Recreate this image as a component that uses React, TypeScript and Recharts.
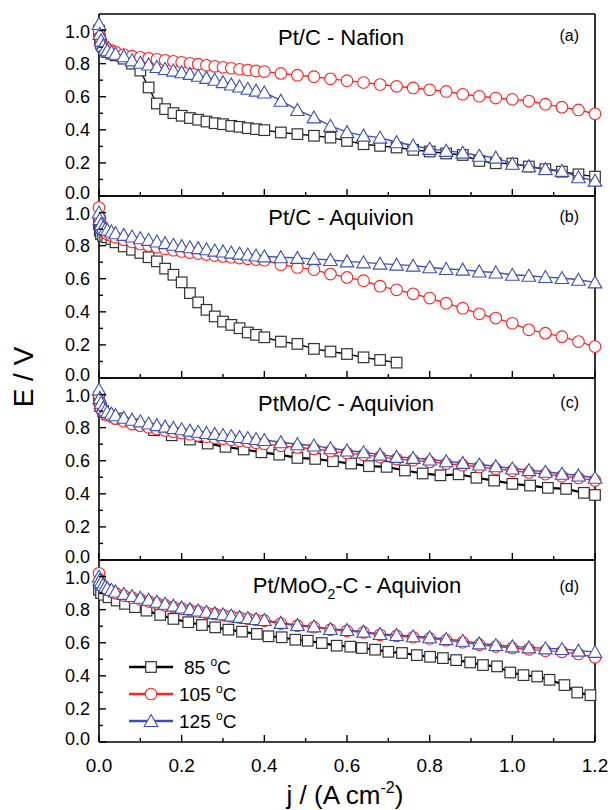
import { ScatterChart, Scatter, XAxis, YAxis } from "recharts";

// current density grid (A cm-2) shared by most curves
const J = [
  0, 0.002, 0.005, 0.01, 0.015, 0.02, 0.03,
  0.04, 0.06, 0.08, 0.1, 0.12, 0.14, 0.16, 0.18, 0.2, 0.22, 0.24, 0.26, 0.28, 0.3, 0.32, 0.34, 0.36, 0.38, 0.4,
  0.44, 0.48, 0.52, 0.56, 0.6, 0.64, 0.68, 0.72, 0.76, 0.8,
  0.84, 0.88, 0.92, 0.96, 1.0, 1.04, 1.08, 1.12, 1.16, 1.2,
];

// (a) Pt/C - Nafion
const a85 = [
  1.0, 0.95, 0.92, 0.9, 0.88, 0.87, 0.86,
  0.85, 0.83, 0.8, 0.758, 0.656, 0.559, 0.525, 0.501, 0.485, 0.471, 0.461, 0.45, 0.44, 0.434, 0.424, 0.418, 0.41, 0.404, 0.398,
  0.384, 0.374, 0.364, 0.353, 0.333, 0.313, 0.303, 0.293, 0.279, 0.269,
  0.257, 0.248, 0.212, 0.198, 0.196, 0.178, 0.162, 0.147, 0.131, 0.117,
];
const a105 = [
  1.0, 0.96, 0.93, 0.91, 0.9, 0.89, 0.88,
  0.87, 0.855, 0.845, 0.838, 0.832, 0.826, 0.82, 0.814, 0.808, 0.802, 0.797, 0.79, 0.784, 0.778, 0.772, 0.766, 0.761, 0.756, 0.752,
  0.741, 0.73, 0.721, 0.708, 0.697, 0.686, 0.674, 0.663, 0.653, 0.642,
  0.632, 0.615, 0.603, 0.592, 0.584, 0.574, 0.555, 0.537, 0.52, 0.497,
];
const a125 = [
  1.04, 0.98, 0.94, 0.91, 0.89, 0.88, 0.87,
  0.86, 0.845, 0.82, 0.805, 0.795, 0.78, 0.768, 0.758, 0.748, 0.738, 0.727, 0.714, 0.703, 0.688, 0.674, 0.662, 0.648, 0.637, 0.626,
  0.576, 0.52, 0.475, 0.424, 0.386, 0.365, 0.353, 0.325, 0.305, 0.285,
  0.273, 0.262, 0.243, 0.232, 0.195, 0.18, 0.163, 0.152, 0.113, 0.093,
];

// (b) Pt/C - Aquivion (85 °C stops at 0.72)
const b85 = [
  0.93, 0.89, 0.87, 0.86, 0.855, 0.85, 0.84,
  0.82, 0.795, 0.775, 0.756, 0.73, 0.705, 0.661, 0.624, 0.578, 0.513, 0.457, 0.412, 0.372, 0.341, 0.321, 0.301, 0.275, 0.261, 0.246,
  0.22, 0.206, 0.176, 0.16, 0.145, 0.125, 0.109, 0.093,
];
const b105 = [
  1.03, 0.97, 0.93, 0.9, 0.88, 0.87, 0.86,
  0.85, 0.835, 0.822, 0.81, 0.8, 0.79, 0.78, 0.772, 0.765, 0.758, 0.752, 0.746, 0.74, 0.735, 0.73, 0.725, 0.72, 0.716, 0.712,
  0.685, 0.668, 0.655, 0.628, 0.608, 0.588, 0.555, 0.533, 0.509, 0.483,
  0.452, 0.422, 0.388, 0.362, 0.331, 0.291, 0.271, 0.25, 0.22, 0.19,
];
const b125 = [
  1.0, 0.96, 0.93, 0.91, 0.9, 0.895, 0.885,
  0.875, 0.865, 0.855, 0.845, 0.835, 0.825, 0.815, 0.805, 0.797, 0.79, 0.785, 0.778, 0.77, 0.765, 0.758, 0.752, 0.746, 0.74, 0.735,
  0.73, 0.726, 0.72, 0.713, 0.705, 0.699, 0.691, 0.685, 0.679, 0.669,
  0.659, 0.655, 0.644, 0.638, 0.624, 0.618, 0.61, 0.604, 0.594, 0.578,
];

// (c) PtMo/C - Aquivion
const jC85 = [
  0, 0.003, 0.01, 0.02, 0.046, 0.09, 0.133, 0.176, 0.22, 0.263, 0.306, 0.35, 0.393,
  0.436, 0.48, 0.523, 0.566, 0.61, 0.653, 0.696, 0.74, 0.783, 0.826,
  0.87, 0.913, 0.956, 1.0, 1.043, 1.086, 1.13, 1.173, 1.2,
];
const c85 = [
  0.97, 0.93, 0.9, 0.88, 0.855, 0.82, 0.785, 0.754, 0.728, 0.704, 0.684, 0.668, 0.651,
  0.637, 0.617, 0.611, 0.597, 0.583, 0.567, 0.563, 0.541, 0.523, 0.512,
  0.518, 0.497, 0.48, 0.46, 0.45, 0.436, 0.43, 0.406, 0.393,
];
const c105 = [
  1.0, 0.95, 0.92, 0.9, 0.885, 0.875, 0.865,
  0.855, 0.838, 0.822, 0.812, 0.802, 0.792, 0.783, 0.775, 0.767, 0.76, 0.752, 0.745, 0.739, 0.733, 0.727, 0.721, 0.715, 0.709, 0.703,
  0.69, 0.68, 0.672, 0.658, 0.646, 0.636, 0.623, 0.61, 0.603, 0.593,
  0.583, 0.573, 0.562, 0.552, 0.539, 0.529, 0.519, 0.506, 0.496, 0.481,
];
const c125 = [
  1.03, 0.98, 0.95, 0.92, 0.905, 0.895, 0.885,
  0.875, 0.86, 0.848, 0.838, 0.825, 0.815, 0.806, 0.798, 0.79, 0.782, 0.775, 0.768, 0.762, 0.755, 0.749, 0.743, 0.737, 0.731, 0.725,
  0.712, 0.7, 0.692, 0.675, 0.662, 0.651, 0.637, 0.623, 0.617, 0.607,
  0.597, 0.587, 0.577, 0.567, 0.553, 0.543, 0.533, 0.521, 0.511, 0.497,
];

// (d) Pt/MoO2-C - Aquivion
const jD85 = [
  0, 0.005, 0.012, 0.023, 0.043, 0.063, 0.087, 0.115, 0.148, 0.18,
  0.216, 0.249, 0.281, 0.313, 0.346, 0.382, 0.41, 0.442, 0.475,
  0.505, 0.539, 0.575, 0.608, 0.636, 0.668, 0.7, 0.733, 0.769, 0.801,
  0.832, 0.864, 0.898, 0.929, 0.963, 0.995, 1.027, 1.06, 1.09, 1.126, 1.157, 1.189,
];
const d85 = [
  0.92, 0.9, 0.89, 0.875, 0.855, 0.835, 0.815, 0.794, 0.768, 0.744,
  0.724, 0.707, 0.693, 0.679, 0.667, 0.653, 0.639, 0.633, 0.618,
  0.612, 0.598, 0.582, 0.576, 0.568, 0.558, 0.545, 0.538, 0.525, 0.515,
  0.507, 0.495, 0.481, 0.465, 0.457, 0.42, 0.404, 0.396, 0.376, 0.344, 0.299, 0.283,
];
const d105 = [
  1.02, 0.98, 0.955, 0.94, 0.93, 0.92, 0.91,
  0.9, 0.885, 0.872, 0.862, 0.85, 0.838, 0.827, 0.816, 0.806, 0.797, 0.789, 0.781, 0.774, 0.767, 0.759, 0.752, 0.745, 0.739, 0.733,
  0.716, 0.703, 0.694, 0.679, 0.672, 0.662, 0.648, 0.641, 0.633, 0.626,
  0.615, 0.603, 0.588, 0.577, 0.568, 0.56, 0.552, 0.545, 0.532, 0.512,
];
const d125 = [
  1.0, 0.98, 0.965, 0.95, 0.94, 0.93, 0.92,
  0.91, 0.895, 0.882, 0.872, 0.86, 0.848, 0.836, 0.824, 0.813, 0.803, 0.795, 0.787, 0.779, 0.772, 0.764, 0.756, 0.749, 0.743, 0.737,
  0.72, 0.707, 0.699, 0.683, 0.677, 0.667, 0.653, 0.647, 0.639, 0.633,
  0.622, 0.612, 0.596, 0.586, 0.578, 0.572, 0.566, 0.562, 0.552, 0.545,
];

const J_TICKS = [0, 0.1, 0.2, 0.3, 0.4, 0.5, 0.6, 0.7, 0.8, 0.9, 1.0, 1.1, 1.2];
const E_TICKS = [0, 0.1, 0.2, 0.3, 0.4, 0.5, 0.6, 0.7, 0.8, 0.9, 1.0];
const TEMPS = ["85", "105", "125"];

const FONT = "'Liberation Sans', Arial, Helvetica, sans-serif";
const BLACK = "#000";
const RED = "#ff2424";
const BLUE = "#3b50b6";

const PANEL_H = 182;
const PAD = 12;

const zip = (js: number[], es: number[]) => es.map((e, i) => ({ j: js[i], e }));

function Square({ cx, cy }: any) {
  if (cx == null) return null;
  return <rect x={cx - 5.3} y={cy - 5.3} width={10.6} height={10.6} fill="#fff" stroke="#333" strokeWidth={1.2} />;
}
function Circle({ cx, cy }: any) {
  if (cx == null) return null;
  return <circle cx={cx} cy={cy} r={5.8} fill="#fff" stroke={RED} strokeWidth={1.1} />;
}
function Triangle({ cx, cy }: any) {
  if (cx == null) return null;
  return (
    <polygon
      points={`${cx},${cy - 6.5} ${cx + 6.8},${cy + 5.5} ${cx - 6.8},${cy + 5.5}`}
      fill="#fff"
      stroke={BLUE}
      strokeWidth={1.1}
    />
  );
}

const isMajor = (v: number) => Math.round(v * 10) % 2 === 0;

function BottomTick({ x, y, payload, labels }: any) {
  const v = payload.value;
  const len = isMajor(v) ? 7 : 4;
  return (
    <g>
      <line x1={x} y1={y} x2={x} y2={y - len} stroke="#000" strokeWidth={1.4} />
      {labels && isMajor(v) && (
        <text x={x} y={y + 30} textAnchor="middle" fontSize={19} fontFamily={FONT} fill="#000">
          {v.toFixed(1)}
        </text>
      )}
    </g>
  );
}
function TopTick({ x, y, payload, show }: any) {
  if (!show) return <g />;
  const len = isMajor(payload.value) ? 7 : 5;
  return <line x1={x} y1={y} x2={x} y2={y + len} stroke="#000" strokeWidth={1.4} />;
}
function LeftTick({ x, y, payload }: any) {
  const v = payload.value;
  const len = isMajor(v) ? 7 : 4;
  // the 0.0 of one panel and the 1.0 of the next sit close together, nudge them apart a little
  const nudge = v === 0 ? -3 : v === 1 ? 1 : 0;
  return (
    <g>
      <line x1={x} y1={y} x2={x + len} y2={y} stroke="#000" strokeWidth={1.4} />
      {isMajor(v) && (
        <text x={x - 9} y={y + nudge} dy="0.36em" textAnchor="end" fontSize={18} fontFamily={FONT} fill="#000">
          {v.toFixed(1)}
        </text>
      )}
    </g>
  );
}
function RightTick({ x, y, payload }: any) {
  const len = isMajor(payload.value) ? 7 : 4;
  return <line x1={x} y1={y} x2={x - len} y2={y} stroke="#000" strokeWidth={1.4} />;
}

type Series = { data: { j: number; e: number }[]; color: string; shape: any; width: number };

// axes get a 1px box (a 0px one is not drawn); margins are trimmed by the same pixel
function Panel({ top, series, first, last }: { top: number; series: Series[]; first?: boolean; last?: boolean }) {
  const extra = last ? 40 : 0;
  const axisLine = { stroke: "#000", strokeWidth: 1.6 };
  return (
    <div style={{ position: "absolute", left: 0, top: top - PAD }}>
      <ScatterChart
        width={610}
        height={PANEL_H + 2 * PAD + extra}
        margin={{ top: PAD - 1, right: 14, bottom: PAD - 1 + extra, left: 98 }}
      >
        <XAxis
          xAxisId="b"
          type="number"
          dataKey="j"
          domain={[0, 1.2]}
          ticks={J_TICKS}
          interval={0}
          height={1}
          tickSize={0}
          tickMargin={0}
          tickLine={false}
          axisLine={axisLine}
          tick={(p: any) => <BottomTick {...p} labels={last} />}
        />
        <XAxis
          xAxisId="t"
          orientation="top"
          type="number"
          domain={[0, 1.2]}
          ticks={J_TICKS.slice(1, -1)}
          interval={0}
          height={1}
          tickSize={0}
          tickMargin={0}
          tickLine={false}
          axisLine={axisLine}
          tick={(p: any) => <TopTick {...p} show={first} />}
        />
        <YAxis
          yAxisId="l"
          type="number"
          dataKey="e"
          domain={[0, 1.1]}
          ticks={E_TICKS}
          interval={0}
          width={1}
          tickSize={0}
          tickMargin={0}
          tickLine={false}
          axisLine={axisLine}
          tick={(p: any) => <LeftTick {...p} />}
        />
        <YAxis
          yAxisId="r"
          orientation="right"
          type="number"
          domain={[0, 1.1]}
          ticks={E_TICKS}
          interval={0}
          width={1}
          tickSize={0}
          tickMargin={0}
          tickLine={false}
          axisLine={axisLine}
          tick={(p: any) => <RightTick {...p} />}
        />
        {series.map((s, i) => (
          <Scatter
            key={i}
            xAxisId="b"
            yAxisId="l"
            data={s.data}
            line={{ stroke: s.color, strokeWidth: s.width }}
            shape={s.shape}
            isAnimationActive={false}
          />
        ))}
      </ScatterChart>
    </div>
  );
}

const TOPS = [14, 196, 378, 560];

export default function App() {
  const panels: Series[][] = [
    [
      { data: zip(J, a85), color: BLACK, shape: Square, width: 1.4 },
      { data: zip(J, a105), color: RED, shape: Circle, width: 1.4 },
      { data: zip(J, a125), color: BLUE, shape: Triangle, width: 1.4 },
    ],
    [
      { data: zip(J, b85), color: BLACK, shape: Square, width: 1.4 },
      { data: zip(J, b105), color: RED, shape: Circle, width: 1.4 },
      { data: zip(J, b125), color: BLUE, shape: Triangle, width: 1.4 },
    ],
    [
      { data: zip(jC85, c85), color: BLACK, shape: Square, width: 2.2 },
      { data: zip(J, c105), color: RED, shape: Circle, width: 1.4 },
      { data: zip(J, c125), color: BLUE, shape: Triangle, width: 1.4 },
    ],
    [
      { data: zip(jD85, d85), color: BLACK, shape: Square, width: 2.2 },
      { data: zip(J, d105), color: RED, shape: Circle, width: 1.4 },
      { data: zip(J, d125), color: BLUE, shape: Triangle, width: 1.4 },
    ],
  ];

  const titleStyle = { fontFamily: FONT, fontSize: 22, fill: "#000" };
  const tagStyle = { fontFamily: FONT, fontSize: 16, fill: "#000" };
  const legendColors = [BLACK, RED, BLUE];
  const legendShapes = [Square, Circle, Triangle];

  return (
    <div style={{ position: "absolute", left: 0, top: 0, width: 610, height: 810, background: "#fff", overflow: "hidden" }}>
      {panels.map((s, i) => (
        <Panel key={i} top={TOPS[i]} series={s} first={i === 0} last={i === 3} />
      ))}
      <svg width={610} height={810} style={{ position: "absolute", left: 0, top: 0, pointerEvents: "none" }}>
        <text x={341} y={45} textAnchor="middle" style={titleStyle}>Pt/C - Nafion</text>
        <text x={341} y={225} textAnchor="middle" style={titleStyle}>Pt/C - Aquivion</text>
        <text x={346} y={411} textAnchor="middle" style={titleStyle}>PtMo/C - Aquivion</text>
        <text x={357} y={593} textAnchor="middle" style={titleStyle}>
          <tspan>Pt/MoO</tspan>
          <tspan dy={6} fontSize={14}>2</tspan>
          <tspan dy={-6}>-C - Aquivion</tspan>
        </text>
        <text x={579} y={41} textAnchor="end" style={tagStyle}>(a)</text>
        <text x={579} y={222} textAnchor="end" style={tagStyle}>(b)</text>
        <text x={579} y={408} textAnchor="end" style={tagStyle}>(c)</text>
        <text x={579} y={592} textAnchor="end" style={tagStyle}>(d)</text>

        {TEMPS.map((t, i) => {
          const y = 667 + i * 27;
          const Shape = legendShapes[i];
          return (
            <g key={t}>
              <line x1={129} y1={y} x2={173} y2={y} stroke={legendColors[i]} strokeWidth={2.6} />
              <Shape cx={151} cy={y} />
              <text x={t.length === 2 ? 184 : 179} y={y + 7} fontFamily={FONT} fontSize={19} fill="#000">
                <tspan>{t} </tspan>
                <tspan dy={-8} fontSize={12}>o</tspan>
                <tspan dy={8}>C</tspan>
              </text>
            </g>
          );
        })}

        <text
          x={33}
          y={377}
          textAnchor="middle"
          transform="rotate(-90 33 377)"
          fontFamily={FONT}
          fontSize={28}
          fill="#000"
        >
          E / V
        </text>
        <text x={345} y={804} textAnchor="middle" fontFamily={FONT} fontSize={26} fill="#000">
          <tspan>j / (A cm</tspan>
          <tspan dy={-11} fontSize={16}>-2</tspan>
          <tspan dy={11}>)</tspan>
        </text>
      </svg>
    </div>
  );
}
